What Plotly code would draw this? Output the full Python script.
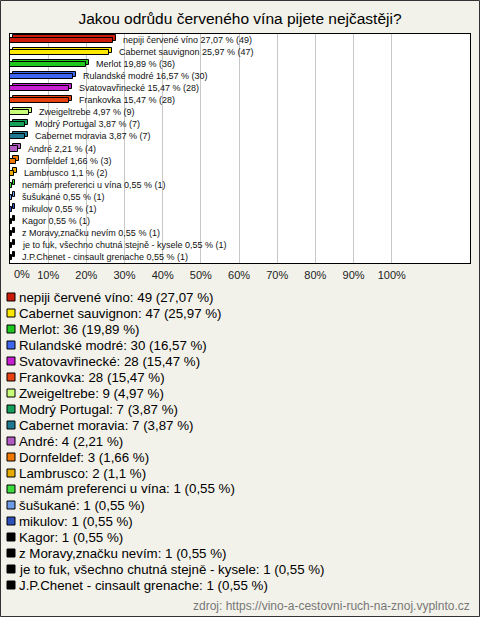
import plotly.graph_objects as go

categories = [
    "nepiji červené víno", "Cabernet sauvignon", "Merlot", "Rulandské modré",
    "Svatovavřinecké", "Frankovka", "Zweigeltrebe", "Modrý Portugal",
    "Cabernet moravia", "André", "Dornfeldef", "Lambrusco",
    "nemám preferenci u vína", "šušukané", "mikulov", "Kagor",
    "z Moravy,značku nevím", "je to fuk, všechno chutná stejně - kysele",
    "J.P.Chenet - cinsault grenache",
]
counts = [49, 47, 36, 30, 28, 28, 9, 7, 7, 4, 3, 2, 1, 1, 1, 1, 1, 1, 1]
percents = [27.07, 25.97, 19.89, 16.57, 15.47, 15.47, 4.97, 3.87, 3.87, 2.21,
            1.66, 1.1, 0.55, 0.55, 0.55, 0.55, 0.55, 0.55, 0.55]
percent_labels = ["27,07", "25,97", "19,89", "16,57", "15,47", "15,47", "4,97",
                  "3,87", "3,87", "2,21", "1,66", "1,1", "0,55", "0,55", "0,55",
                  "0,55", "0,55", "0,55", "0,55"]
colors = ["#cc1a0a", "#ffe800", "#1ec81e", "#3f66ee", "#c81ed2", "#e8400f",
          "#c8ff78", "#14a05a", "#1e7891", "#b45ac3", "#f07800", "#e6aa00",
          "#3cdc3c", "#6e9be6", "#2d50b9", "#000000", "#000000", "#000000",
          "#000000"]
tick_values = [10, 20, 30, 40, 50, 60, 70, 80, 90, 100]
tick_labels = ["10%", "20%", "30%", "40%", "50%", "60%", "70%", "80%",
               "90%", "100%"]
zero_label = "0%"

title_text = "Jakou odrůdu červeného vína pijete nejčastěji?"
source_text = "zdroj: https://vino-a-cestovni-ruch-na-znoj.vyplnto.cz"

W, H = 480, 617
L, R, T, B = 10, 10, 34, 617 - 263
PW, PH = W - L - R, H - T - B
FONT = "Liberation Sans, Arial, sans-serif"


def px(x):
    return (x - L) / PW


def py(y):
    return (H - B - y) / PH


ys = list(range(len(categories)))
depth = 0.8

fig = go.Figure()
# back (depth) faces
fig.add_trace(go.Bar(
    x=percents, y=ys, orientation="h", base=depth, width=0.42, offset=-0.38,
    marker=dict(color=colors, line=dict(color="#000000", width=1)),
    hoverinfo="skip", showlegend=False,
))
# front faces
fig.add_trace(go.Bar(
    x=percents, y=ys, orientation="h", base=0, width=0.42, offset=-0.17,
    marker=dict(color=colors, line=dict(color="#000000", width=1)),
    showlegend=False,
))

annotations = []
for i, (c, n, p, pl) in enumerate(zip(categories, counts, percents, percent_labels)):
    annotations.append(dict(
        x=p + depth, y=i, xref="x", yref="y", xanchor="left", yanchor="middle",
        xshift=5, text=f"{c} {pl} % ({n})", showarrow=False,
        font=dict(family=FONT, size=9, color="#111111"),
    ))

annotations.append(dict(
    x=0, y=py(274), xref="x", yref="paper", xanchor="left", yanchor="middle",
    xshift=2, text=zero_label, showarrow=False,
    font=dict(family=FONT, size=11, color="#222222"),
))

shapes = []
leg_y0, leg_step = 297, 16.0
for i, (c, n, pl, col) in enumerate(zip(categories, counts, percent_labels, colors)):
    yc = leg_y0 + i * leg_step
    shapes.append(dict(
        type="rect", xref="paper", yref="paper",
        x0=px(7), x1=px(15), y0=py(yc + 4), y1=py(yc - 4),
        fillcolor=col, line=dict(color="#000000", width=1),
    ))
    annotations.append(dict(
        x=px(17), y=py(yc), xref="paper", yref="paper", xanchor="left",
        yanchor="middle", text=f"{c}: {n} ({pl} %)", showarrow=False,
        font=dict(family=FONT, size=13.3, color="#000000"),
    ))

annotations.append(dict(
    x=px(472), y=py(606), xref="paper", yref="paper", xanchor="right",
    yanchor="middle", text=source_text, showarrow=False,
    font=dict(family=FONT, size=12, color="#777777"),
))

shapes.append(dict(
    type="rect", xref="paper", yref="paper",
    x0=px(0.5), x1=px(479.5), y0=py(616.5), y1=py(0.5),
    line=dict(color="#333333", width=1), fillcolor="rgba(0,0,0,0)", layer="below",
))

fig.update_layout(
    width=W, height=H,
    margin=dict(l=L, r=R, t=T, b=B),
    paper_bgcolor="#f3f2ea", plot_bgcolor="#ffffff",
    barmode="overlay", bargap=0,
    title=dict(text=title_text, x=0.5, xanchor="center", xref="paper",
               y=1 - 19 / H, yanchor="middle", yref="container",
               font=dict(family=FONT, size=15.5, color="#000000")),
    xaxis=dict(range=[0, 120.5], tickvals=tick_values, ticktext=tick_labels,
               showgrid=True, gridcolor="#c8c8c8", gridwidth=1, zeroline=False,
               showline=True, mirror=True, linecolor="#000000", linewidth=1,
               ticks="", ticklabelstandoff=2,
               tickfont=dict(family=FONT, size=11, color="#222222")),
    yaxis=dict(range=[18.5, -0.5], showticklabels=False, showgrid=False,
               zeroline=False, showline=True, mirror=True,
               linecolor="#000000", linewidth=1, ticks=""),
    annotations=annotations, shapes=shapes,
    showlegend=False,
)

fig.write_html(
    "out.html",
    config={"displayModeBar": False},
    post_script="document.body.style.margin='0px';document.body.style.overflow='hidden';",
)
